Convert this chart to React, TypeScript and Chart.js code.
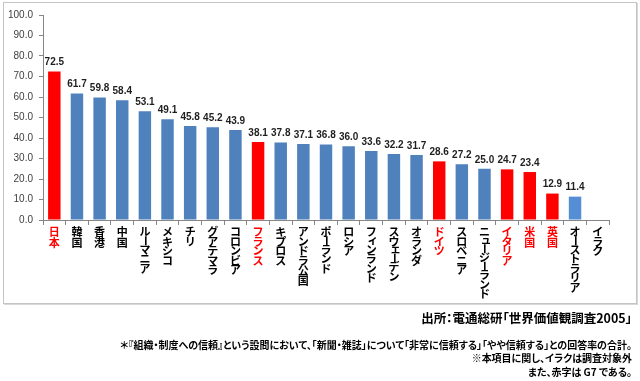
import React, { useEffect, useRef } from "react";
import { Chart, registerables } from "chart.js";

Chart.register(...registerables);

const categories = [
  "日本", "韓国", "香港", "中国", "ルーマニア", "メキシコ", "チリ", "グアテマラ", "コロンビア",
  "フランス", "キプロス", "アンドラ公国", "ポーランド", "ロシア", "フィンランド", "スウェーデン",
  "オランダ", "ドイツ", "スロベニア", "ニュージーランド", "イタリア", "米国", "英国", "オーストラリア", "イラク",
];
const values: (number | null)[] = [
  72.5, 61.7, 59.8, 58.4, 53.1, 49.1, 45.8, 45.2, 43.9,
  38.1, 37.8, 37.1, 36.8, 36.0, 33.6, 32.2,
  31.7, 28.6, 27.2, 25.0, 24.7, 23.4, 12.9, 11.4, null,
];
const g7 = ["日本", "フランス", "ドイツ", "イタリア", "米国", "英国"];
const highlightLight = ["オーストラリア"];
const yMin = 0;
const yMax = 100;
const yStep = 10;

const sourceText = "出所：電通総研「世界価値観調査2005」";
const noteLines = [
  "＊『組織・制度への信頼』という設問において、「新聞・雑誌」について「非常に信頼する」「やや信頼する」との回答率の合計。",
  "※本項目に関し、イラクは調査対象外",
  "また、赤字は G7 である。",
];

const RED = "#ff0000";
const BLUE = "#4f81bd";
const LIGHT = "#558ed5";
const AXIS = "#868686";
const SMALL_KANA = "ァィゥェォッャュョヮ";

const barColors = categories.map((c) =>
  g7.includes(c) ? RED : highlightLight.includes(c) ? LIGHT : BLUE
);

function charAdvance(ch: string): number {
  if (ch === "ー" || SMALL_KANA.includes(ch)) return 8;
  const code = ch.charCodeAt(0);
  if (code >= 0x4e00 && code <= 0x9fff) return 10.5;
  return 9.5;
}

const verticalLabels = {
  id: "verticalLabels",
  afterDraw(chart: any) {
    const ctx = chart.ctx;
    const xs = chart.scales.x;
    const top = chart.chartArea.bottom;
    ctx.save();
    ctx.font = "bold 11px 'Noto Sans CJK JP'";
    ctx.textAlign = "center";
    ctx.textBaseline = "middle";
    categories.forEach((c, i) => {
      const x = xs.getPixelForValue(i);
      ctx.fillStyle = g7.includes(c) ? RED : "#000000";
      const chars = Array.from(c);
      let y = top + 12;
      chars.forEach((ch, k) => {
        if (ch === "ー") {
          ctx.save();
          ctx.translate(x, y);
          ctx.rotate(Math.PI / 2);
          ctx.fillText(ch, 0, 0);
          ctx.restore();
        } else if (SMALL_KANA.includes(ch)) {
          ctx.fillText(ch, x + 1.5, y - 1);
        } else {
          ctx.fillText(ch, x, y);
        }
        if (k < chars.length - 1) {
          y += (charAdvance(ch) + charAdvance(chars[k + 1])) / 2;
        }
      });
    });
    ctx.restore();
  },
};

const valueLabels = {
  id: "valueLabels",
  afterDatasetsDraw(chart: any) {
    const ctx = chart.ctx;
    const meta = chart.getDatasetMeta(0);
    ctx.save();
    ctx.font = "bold 10px 'Liberation Sans'";
    ctx.fillStyle = "#1f1f1f";
    ctx.textAlign = "center";
    ctx.textBaseline = "bottom";
    meta.data.forEach((bar: any, i: number) => {
      const v = values[i];
      if (v === null || v === undefined) return;
      ctx.fillText(v.toFixed(1), bar.x, bar.y - 4);
    });
    ctx.restore();
  },
};

export default function App() {
  const ref = useRef<HTMLCanvasElement | null>(null);

  useEffect(() => {
    if (!ref.current) return;
    const chart = new Chart(ref.current, {
      type: "bar",
      data: {
        labels: categories,
        datasets: [
          {
            data: values as any,
            backgroundColor: barColors,
            borderWidth: 0,
            barPercentage: 0.55,
            categoryPercentage: 1,
          },
        ],
      },
      options: {
        animation: false,
        responsive: false,
        maintainAspectRatio: false,
        layout: { padding: { top: 15, right: 31, left: 0, bottom: 0 } },
        plugins: { legend: { display: false }, tooltip: { enabled: false } },
        scales: {
          x: {
            grid: {
              offset: true,
              drawOnChartArea: false,
              drawTicks: true,
              tickLength: 5,
              color: AXIS,
            },
            border: { color: AXIS },
            ticks: { display: false },
            afterFit(s: any) {
              s.height = 161;
            },
          },
          y: {
            min: yMin,
            max: yMax,
            ticks: {
              stepSize: yStep,
              callback: (v: any) => Number(v).toFixed(1),
              color: "#404040",
              font: { size: 10, family: "'Liberation Sans'" },
              padding: 6,
            },
            grid: {
              drawOnChartArea: false,
              drawTicks: true,
              tickLength: 4,
              color: AXIS,
            },
            border: { color: AXIS },
            afterFit(s: any) {
              s.width = 43;
            },
          },
        },
      },
      plugins: [verticalLabels, valueLabels],
    });
    return () => chart.destroy();
  }, []);

  const noteStyle: React.CSSProperties = {
    position: "absolute",
    right: 8,
    fontFamily: "'Noto Sans CJK JP'",
    fontSize: 10,
    fontWeight: "bold",
    lineHeight: "12px",
    whiteSpace: "nowrap",
    color: "#000",
    fontFeatureSettings: '"palt"',
  };

  return (
    <div
      style={{
        position: "fixed",
        left: 0,
        top: 0,
        width: 640,
        height: 381,
        background: "#fff",
        overflow: "hidden",
      }}
    >
      <div
        style={{
          position: "absolute",
          left: 3,
          top: 2,
          width: 632,
          height: 300,
          border: "1px solid #c4c4c4",
          boxShadow: "1px 1px 0 #d8d8d8",
        }}
      />
      <canvas
        ref={ref}
        width={640}
        height={381}
        style={{ position: "absolute", left: 0, top: 0 }}
      />
      <div
        style={{
          position: "absolute",
          right: 8,
          top: 310,
          fontFamily: "'Noto Sans CJK JP'",
          fontSize: 12.5,
          fontWeight: "bold",
          lineHeight: "16px",
          whiteSpace: "nowrap",
          color: "#000",
          fontFeatureSettings: '"palt"',
        }}
      >
        {sourceText}
      </div>
      <div style={{ ...noteStyle, top: 339 }}>{noteLines[0]}</div>
      <div style={{ ...noteStyle, top: 352 }}>{noteLines[1]}</div>
      <div style={{ ...noteStyle, top: 366 }}>{noteLines[2]}</div>
    </div>
  );
}
